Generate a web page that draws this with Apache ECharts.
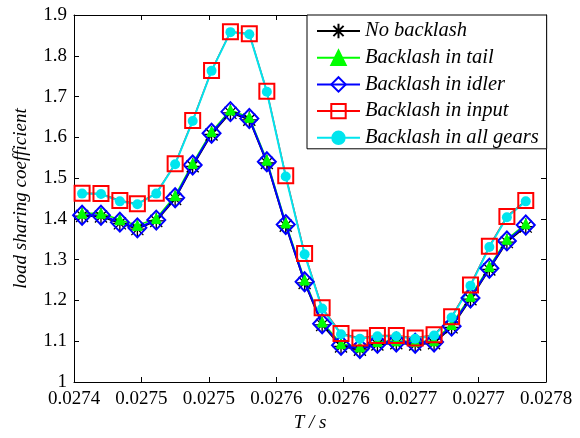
<!DOCTYPE html>
<html>
<head>
<meta charset="utf-8">
<script src="https://cdn.jsdelivr.net/npm/echarts@6/dist/echarts.min.js"></script>
<style>
html,body{margin:0;padding:0;background:#fff;}
#chart{width:580px;height:438px;}
</style>
</head>
<body>
<div id="chart"></div>
<script>
// time instants (s)
var tValues = [0.027406, 0.027420, 0.027434, 0.027447, 0.027461, 0.027475, 0.027488, 0.027502, 0.027516, 0.027530, 0.027543, 0.027557, 0.027571, 0.027584, 0.027598, 0.027612, 0.027625, 0.027639, 0.027653, 0.027667, 0.027680, 0.027694, 0.027708, 0.027721, 0.027735];
var noBacklash = [1.407,1.406,1.389,1.375,1.395,1.449,1.529,1.607,1.660,1.643,1.537,1.383,1.243,1.140,1.087,1.079,1.092,1.095,1.092,1.095,1.134,1.203,1.276,1.343,1.381];
var tailBacklash = [1.414,1.414,1.398,1.384,1.401,1.457,1.536,1.614,1.667,1.649,1.544,1.390,1.250,1.147,1.094,1.086,1.099,1.101,1.099,1.101,1.141,1.210,1.283,1.350,1.388];
var idlerBacklash = [1.409,1.409,1.392,1.378,1.397,1.452,1.532,1.610,1.663,1.646,1.540,1.386,1.246,1.143,1.090,1.082,1.095,1.098,1.095,1.098,1.137,1.206,1.279,1.346,1.385];
var inputBacklash = [1.463,1.462,1.445,1.437,1.463,1.535,1.641,1.764,1.859,1.854,1.713,1.506,1.315,1.182,1.119,1.108,1.114,1.114,1.108,1.116,1.160,1.238,1.333,1.406,1.445];
var allBacklash = [1.462,1.461,1.443,1.436,1.462,1.534,1.640,1.763,1.858,1.853,1.712,1.504,1.313,1.180,1.117,1.106,1.112,1.112,1.106,1.114,1.158,1.236,1.331,1.404,1.443];
var seriesNames = ['No backlash','Backlash in tail','Backlash in idler','Backlash in input','Backlash in all gears'];
var xTickLabels = ['0.0274','0.0275','0.0275','0.0276','0.0276','0.0277','0.0277','0.0278'];
var yTickLabels = ['1','1.1','1.2','1.3','1.4','1.5','1.6','1.7','1.8','1.9'];

var FONT = 'Liberation Serif';
var FS = 19;
var X_MIN = 0.0274, X_MAX = 0.02775, X_INT = 0.00005;
var Y_MIN = 1, Y_MAX = 1.9, Y_INT = 0.1;

function pairs(ys){ return ys.map(function(y,i){ return [tValues[i], y]; }); }

var chart = echarts.init(document.getElementById('chart'), null, {renderer:'canvas'});

var commonAxisLine = {show:true, onZero:false, lineStyle:{color:'#000', width:1}};
var commonTick = {show:true, inside:true, length:5, lineStyle:{color:'#000', width:1}};

var option = {
  backgroundColor:'#fff',
  animation:false,
  textStyle:{fontFamily:FONT},
  grid:{left:74, right:34, top:15, bottom:56, containLabel:false},
  legend:{
    orient:'vertical',
    left:307, top:15,
    padding:[6,8,1,9],
    itemWidth:43, itemHeight:18, itemGap:6.7,
    backgroundColor:'#fff',
    borderColor:'#000', borderWidth:1, borderRadius:0,
    textStyle:{fontFamily:FONT, fontSize:20.5, lineHeight:20, fontStyle:'italic', color:'#000'},
    data:seriesNames
  },
  xAxis:[{
    type:'value', min:X_MIN, max:X_MAX, interval:X_INT, position:'bottom',
    axisLine:commonAxisLine, axisTick:commonTick, splitLine:{show:false},
    axisLabel:{color:'#000', fontFamily:FONT, fontSize:FS, margin:8,
      formatter:function(v){ return xTickLabels[Math.round((v-X_MIN)/X_INT)] || ''; }},
    name:'T / s', nameLocation:'middle', nameGap:30,
    nameTextStyle:{fontFamily:FONT, fontSize:FS, fontStyle:'italic', color:'#000', verticalAlign:'top'}
  },{
    type:'value', min:X_MIN, max:X_MAX, interval:X_INT, position:'top',
    axisLine:commonAxisLine, axisTick:commonTick, splitLine:{show:false}, axisLabel:{show:false}
  }],
  yAxis:[{
    type:'value', min:Y_MIN, max:Y_MAX, interval:Y_INT, position:'left',
    axisLine:commonAxisLine, axisTick:commonTick, splitLine:{show:false},
    axisLabel:{color:'#000', fontFamily:FONT, fontSize:FS, margin:7,
      formatter:function(v){ return yTickLabels[Math.round((v-Y_MIN)/Y_INT)] || ''; }},
    name:'load sharing coefficient', nameLocation:'middle', nameGap:44,
    nameTextStyle:{fontFamily:FONT, fontSize:FS, fontStyle:'italic', color:'#000'}
  },{
    type:'value', min:Y_MIN, max:Y_MAX, interval:Y_INT, position:'right',
    axisLine:commonAxisLine, axisTick:commonTick, splitLine:{show:false}, axisLabel:{show:false}
  }],
  series:[
    {
      name:seriesNames[0], type:'line', data:pairs(noBacklash),
      symbol:'path://M0,-10L0,10M-10,0L10,0M-7.07,-7.07L7.07,7.07M-7.07,7.07L7.07,-7.07',
      symbolSize:17, symbolKeepAspect:true,
      lineStyle:{color:'#000', width:1.5},
      itemStyle:{color:'#000', borderColor:'#000', borderWidth:1.3}
    },
    {
      name:seriesNames[1], type:'line', data:pairs(tailBacklash),
      symbol:'triangle', symbolSize:10,
      lineStyle:{color:'#00ff00', width:1.5},
      itemStyle:{color:'#00ff00', borderColor:'#00ff00', borderWidth:1}
    },
    {
      name:seriesNames[2], type:'line', data:pairs(idlerBacklash),
      symbol:'diamond', symbolSize:[18,19],
      lineStyle:{color:'#0000ff', width:2},
      itemStyle:{color:'rgba(0,0,0,0)', borderColor:'#0000ff', borderWidth:2}
    },
    {
      name:seriesNames[3], type:'line', data:pairs(inputBacklash),
      symbol:'rect', symbolSize:15,
      lineStyle:{color:'#ff0000', width:1.5},
      itemStyle:{color:'rgba(0,0,0,0)', borderColor:'#ff0000', borderWidth:2}
    },
    {
      name:seriesNames[4], type:'line', data:pairs(allBacklash),
      symbol:'circle', symbolSize:10,
      lineStyle:{color:'#00e5ee', width:2},
      itemStyle:{color:'#00e5ee', borderColor:'#00e5ee', borderWidth:0}
    }
  ]
};
chart.setOption(option);
</script>
</body>
</html>
